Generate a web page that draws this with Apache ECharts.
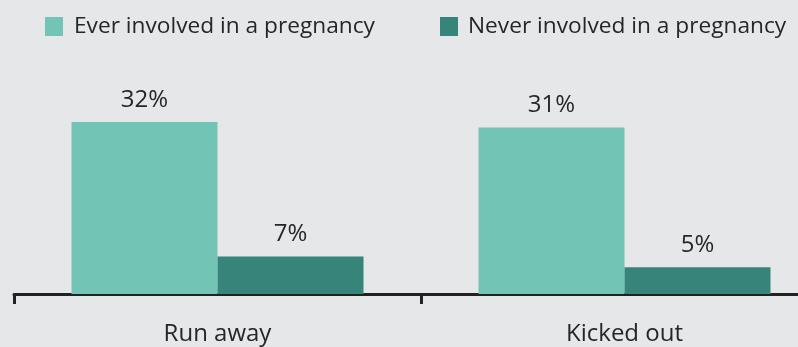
<!DOCTYPE html>
<html style="height: 100%;">
<head>
<meta charset="utf-8">
<title>Pregnancy involvement</title>
<script type="text/javascript" src="https://cdn.jsdelivr.net/npm/echarts@6/dist/echarts.min.js"></script>
</head>
<body style="height: 100%; margin: 0; background: #e6e7e8; overflow: hidden;">
<!-- wider than the window on purpose: the original is cropped on the right -->
<div id="container" style="width: 840px; height: 347px;"></div>
<script type="text/javascript">
var categories = ['Run away', 'Kicked out'];
var seriesNames = ['Ever involved in a pregnancy', 'Never involved in a pregnancy'];
var everValues = [32, 31];
var neverValues = [7, 5];

var textColor = '#262626';
var fontName = '"Open Sans", "Noto Sans", sans-serif';

var dom = document.getElementById('container');
var myChart = echarts.init(dom);

// legend split in two so each item sits where the original puts it
var option = {
    backgroundColor: '#e6e7e8',
    animation: false,
    textStyle: { fontFamily: fontName },
    legend: [
        {
            data: [seriesNames[0]],
            left: 40, top: 10,
            icon: 'rect',
            itemWidth: 18, itemHeight: 19,
            textStyle: { color: textColor, fontSize: 22.7, fontFamily: fontName, padding: [0, 0, 0, 6] }
        },
        {
            data: [seriesNames[1]],
            left: 435, top: 10,
            icon: 'rect',
            itemWidth: 18, itemHeight: 19,
            textStyle: { color: textColor, fontSize: 22.7, fontFamily: fontName, padding: [0, 0, 0, 5] }
        }
    ],
    grid: { left: 14, right: 12, top: 79, bottom: 53 },
    xAxis: {
        type: 'category',
        data: categories,
        axisLine: { lineStyle: { color: '#222222', width: 3 } },
        axisTick: { show: true, interval: 0, length: 10, lineStyle: { color: '#222222', width: 3 } },
        axisLabel: { color: textColor, fontSize: 24, margin: 28, fontFamily: fontName }
    },
    yAxis: {
        type: 'value',
        min: 0, max: 40,
        show: false,
        splitLine: { show: false }
    },
    series: [
        {
            name: seriesNames[0],
            type: 'bar',
            data: everValues,
            barWidth: 146,
            barGap: '0%',
            itemStyle: { color: '#72c5b5' },
            label: { show: true, position: 'top', distance: 10, formatter: '{c}%', color: textColor, fontSize: 24, fontFamily: fontName }
        },
        {
            name: seriesNames[1],
            type: 'bar',
            data: neverValues,
            barWidth: 146,
            itemStyle: { color: '#37857a' },
            label: { show: true, position: 'top', distance: 10, formatter: '{c}%', color: textColor, fontSize: 24, fontFamily: fontName }
        }
    ]
};
myChart.setOption(option);
</script>
</body>
</html>
